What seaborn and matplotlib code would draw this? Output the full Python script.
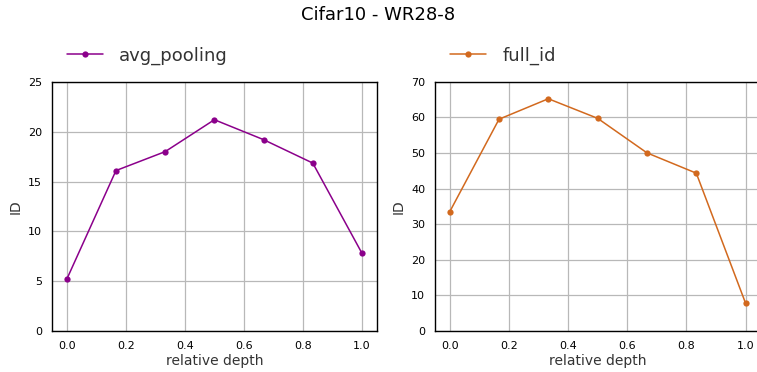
import matplotlib
matplotlib.use("Agg")
import matplotlib.pyplot as plt
import seaborn as sns
import numpy as np
import pandas as pd

depth = [0.0, 1/6, 2/6, 3/6, 4/6, 5/6, 1.0]
avg_pooling = [5.2, 16.1, 18.0, 21.2, 19.2, 16.85, 7.8]
full_id = [33.5, 59.5, 65.25, 59.75, 50.05, 44.35, 7.8]
title = "Cifar10 - WR28-8"

sns.set_style("whitegrid", {"axes.edgecolor": "black", "grid.color": "#b0b0b0"})
plt.rcParams['font.family'] = ['DejaVu Sans']

fig = plt.figure(figsize=(7.57, 3.72), dpi=100)
ax1 = fig.add_axes([0.0687, 0.110, 0.429, 0.670])
ax2 = fig.add_axes([0.5745, 0.110, 0.430, 0.670])

df1 = pd.DataFrame({"depth": depth, "ID": avg_pooling})
df2 = pd.DataFrame({"depth": depth, "ID": full_id})

sns.lineplot(data=df1, x="depth", y="ID", ax=ax1, color="#8b008b", marker="o",
             markersize=4.5, markeredgewidth=0, linewidth=1.1, label="avg_pooling")
sns.lineplot(data=df2, x="depth", y="ID", ax=ax2, color="#d2691e", marker="o",
             markersize=4.5, markeredgewidth=0, linewidth=1.1, label="full_id")

for ax, top in ((ax1, 25), (ax2, 70)):
    ax.set_ylim(0, top)
    ax.set_xlim(-0.05, 1.05)
    ax.set_xlabel("relative depth", fontsize=10, color="#333333", labelpad=2)
    ax.set_ylabel("ID", fontsize=10, color="#333333", labelpad=4)
    ax.tick_params(axis="both", labelsize=8, colors="black", length=0, pad=7)
    for s in ax.spines.values():
        s.set_color("black")
        s.set_linewidth(1.0)
    ax.grid(True, color="#b8b8b8", linewidth=0.9)
    leg = ax.legend(loc="center left", bbox_to_anchor=(0.046, 1.105), frameon=False,
                    fontsize=13, handlelength=2.0, handletextpad=0.9,
                    borderaxespad=0, borderpad=0)
    for t in leg.get_texts():
        t.set_color("#333333")

ax1.set_yticks([0, 5, 10, 15, 20, 25])
ax2.set_yticks([0, 10, 20, 30, 40, 50, 60, 70])
ax1.set_xticks([0, 0.2, 0.4, 0.6, 0.8, 1.0])
ax2.set_xticks([0, 0.2, 0.4, 0.6, 0.8, 1.0])

fig.suptitle(title, fontsize=13, y=0.985, color="black")
fig.savefig("out.png", dpi=100)
